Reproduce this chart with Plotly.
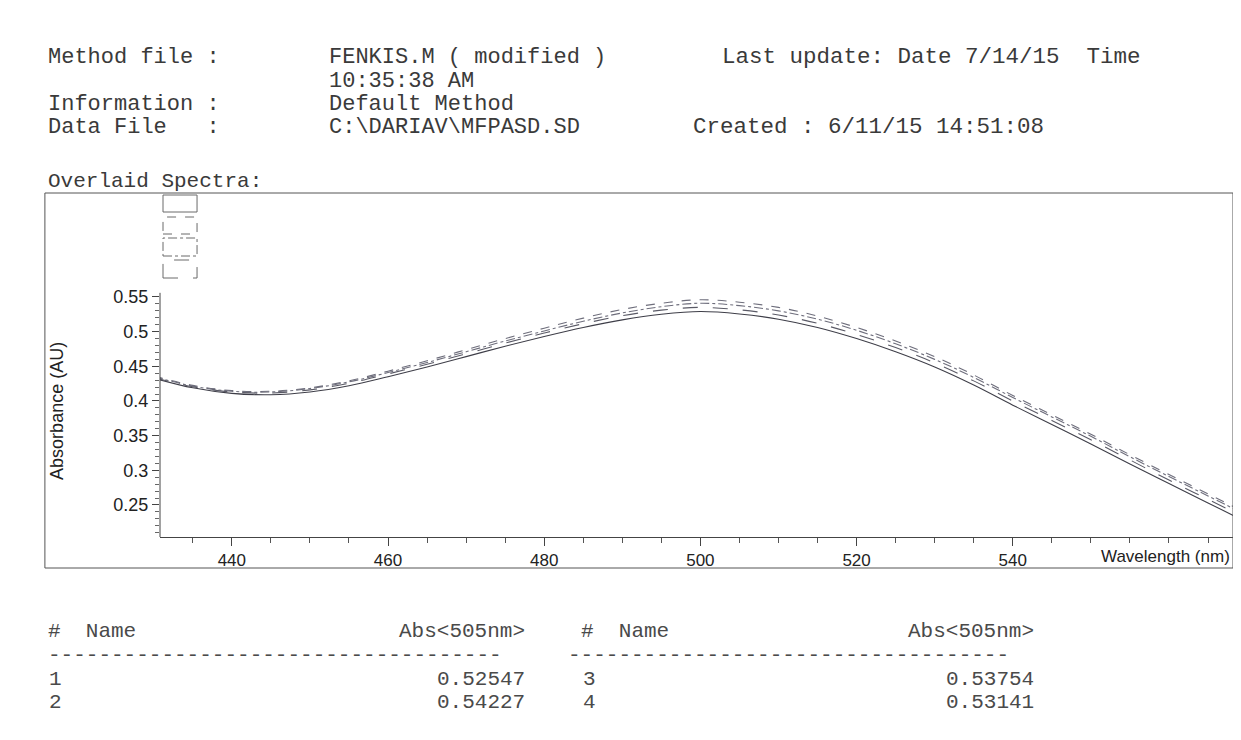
import plotly.graph_objects as go

# ---------------- data ----------------
wavelength = [430, 435, 440, 445, 450, 455, 460, 465, 470, 475, 480, 485, 490, 495,
              500, 505, 510, 515, 520, 525, 530, 535, 540, 545, 550, 555, 560, 565, 570]

spec1 = [0.433, 0.419, 0.411, 0.409, 0.413, 0.422, 0.435, 0.449, 0.464, 0.479, 0.493,
         0.506, 0.517, 0.525, 0.529, 0.5255, 0.518, 0.506, 0.490, 0.471, 0.449, 0.423,
         0.394, 0.366, 0.338, 0.309, 0.281, 0.253, 0.225]
spec2 = [0.436, 0.4225, 0.415, 0.414, 0.419, 0.429, 0.443, 0.458, 0.474, 0.490, 0.505,
         0.5195, 0.532, 0.541, 0.546, 0.5425, 0.535, 0.5225, 0.506, 0.4865, 0.464, 0.4375,
         0.408, 0.380, 0.352, 0.3225, 0.294, 0.266, 0.238]
spec3 = [0.435, 0.4215, 0.414, 0.413, 0.418, 0.4275, 0.441, 0.4555, 0.471, 0.4865, 0.501,
         0.515, 0.527, 0.536, 0.541, 0.5375, 0.530, 0.518, 0.502, 0.4825, 0.460, 0.434,
         0.405, 0.377, 0.349, 0.3195, 0.291, 0.263, 0.235]
spec4 = [0.434, 0.4205, 0.413, 0.4115, 0.416, 0.4255, 0.439, 0.453, 0.468, 0.4835, 0.498,
         0.5115, 0.523, 0.531, 0.535, 0.5315, 0.524, 0.512, 0.496, 0.477, 0.455, 0.429,
         0.400, 0.372, 0.344, 0.315, 0.286, 0.258, 0.230]

x_major = [440, 460, 480, 500, 520, 540]
x_minor = [435, 445, 450, 455, 465, 470, 475, 485, 490, 495, 505, 510, 515, 525, 530,
           535, 545, 550, 555, 560, 565]
y_major = [0.25, 0.3, 0.35, 0.4, 0.45, 0.5, 0.55]
y_major_labels = ["0.25", "0.3", "0.35", "0.4", "0.45", "0.5", "0.55"]
y_minor = [0.21, 0.22, 0.23, 0.24, 0.26, 0.27, 0.28, 0.29, 0.31, 0.32, 0.33, 0.34,
           0.36, 0.37, 0.38, 0.39, 0.41, 0.42, 0.43, 0.44, 0.46, 0.47, 0.48, 0.49,
           0.51, 0.52, 0.53, 0.54]

table_ids = ["1", "2", "3", "4"]
table_abs = ["0.52547", "0.54227", "0.53754", "0.53141"]

series = [
    (spec1, "solid", "#3e3e48"),
    (spec2, "dash", "#6e6e7c"),
    (spec3, "dashdot", "#6e6e7c"),
    (spec4, "longdash", "#5a5a66"),
]

# ---------------- layout geometry (reference pixel coords, page has 8px body margin) ----
OFF = 8
W, H = 1225, 712
L, R, T, B = 160, 1232, 193, 537


def px(xp):
    return (xp - L) / (R - L)


def py(yp):
    return (B - yp) / (B - T)


fig = go.Figure()
for i, (vals, dash, col) in enumerate(series):
    fig.add_trace(go.Scatter(
        x=wavelength, y=vals, mode="lines", name=table_ids[i],
        line=dict(color=col, width=1.1, dash=dash, shape="spline"),
        showlegend=False, hoverinfo="skip"))

mono = "Liberation Mono, Courier New, monospace"
sans = "Liberation Sans, Arial, sans-serif"
hdr_col = "#3a3a3a"
annos = []


def txt(x, y, s, anchor="left", size=21, color=hdr_col, family=mono):
    annos.append(dict(x=px(x), y=py(y), xref="paper", yref="paper", text=s,
                      showarrow=False, xanchor=anchor, yanchor="middle",
                      borderpad=0,
                      font=dict(family=family, size=size, color=color)))


txt(47, 57, "Method file :", size=22)
txt(328, 57, "FENKIS.M ( modified )", size=22)
txt(720, 57, "Last update: Date 7/14/15  Time", size=22.5)
txt(328, 81, "10:35:38 AM", size=22)
txt(47, 104, "Information :", size=22)
txt(328, 104, "Default Method", size=22)
txt(47, 127, "Data File   :", size=22)
txt(328, 127, "C:\\DARIAV\\MFPASD.SD", size=22)
txt(692, 127, "Created : 6/11/15 14:51:08", size=22.5)
txt(47, 182, "Overlaid Spectra:", size=21)

tcol = "#4a4a4a"
ts = 21
txt(47, 631, "#  Name", color=tcol, size=ts)
txt(526, 631, "Abs&lt;505nm&gt;", anchor="right", color=tcol, size=ts)
txt(580, 631, "#  Name", color=tcol, size=ts)
txt(1034, 631, "Abs&lt;505nm&gt;", anchor="right", color=tcol, size=ts)
txt(47, 655, "-" * 36, color=tcol, size=ts)
txt(567, 655, "-" * 35, color=tcol, size=ts)
txt(48, 679, table_ids[0], color=tcol, size=ts)
txt(526, 679, table_abs[0], anchor="right", color=tcol, size=ts)
txt(48, 702, table_ids[1], color=tcol, size=ts)
txt(526, 702, table_abs[1], anchor="right", color=tcol, size=ts)
txt(582, 679, table_ids[2], color=tcol, size=ts)
txt(1034, 679, table_abs[2], anchor="right", color=tcol, size=ts)
txt(582, 702, table_ids[3], color=tcol, size=ts)
txt(1034, 702, table_abs[3], anchor="right", color=tcol, size=ts)

# axis titles
txt(1230, 556, "Wavelength (nm)", anchor="right", size=17, color="#222222", family=sans)
annos.append(dict(x=px(57), y=py(411), xref="paper", yref="paper",
                  text="Absorbance (AU)", showarrow=False, textangle=-90,
                  xanchor="center", yanchor="middle",
                  font=dict(family=sans, size=18, color="#222222")))

shapes = []
# outer frame
shapes.append(dict(type="rect", xref="paper", yref="paper",
                   x0=px(45), x1=1, y0=py(568), y1=py(193),
                   line=dict(color="#555555", width=1)))
# y axis line (only up to the top tick)
shapes.append(dict(type="line", xref="paper", yref="y", x0=0, x1=0,
                   y0=0.2038, y1=0.556, line=dict(color="#444444", width=1)))
# legend sample boxes
box_rows = [(195, 212), (217, 234), (238, 256), (260, 278)]
for (y0, y1), (_, dash, col) in zip(box_rows, series):
    shapes.append(dict(type="rect", xref="paper", yref="paper",
                       x0=px(163), x1=px(197), y0=py(y1), y1=py(y0),
                       line=dict(color="#6a6a6a", width=1, dash=dash)))

fig.update_layout(
    width=W, height=H,
    margin=dict(l=L - OFF, r=W - (R - OFF) - 1, t=T - OFF, b=H - (B - OFF)),
    paper_bgcolor="white", plot_bgcolor="white",
    annotations=annos, shapes=shapes,
    xaxis=dict(range=[430.8, 568.2], showgrid=False, zeroline=False,
               showline=True, linecolor="#444444", linewidth=1,
               tickmode="array", tickvals=x_major, ticks="outside", ticklen=8,
               tickcolor="#444444", tickwidth=1,
               tickfont=dict(family=sans, size=17, color="#222222"),
               minor=dict(tickmode="array", tickvals=x_minor, ticks="outside",
                          ticklen=5, tickcolor="#555555", showgrid=False)),
    yaxis=dict(range=[0.2038, 0.70], showgrid=False, zeroline=False,
               showline=False,
               tickmode="array", tickvals=y_major, ticktext=y_major_labels,
               ticks="outside", ticklen=7, tickcolor="#444444", tickwidth=1,
               tickfont=dict(family=sans, size=18, color="#222222"),
               minor=dict(tickmode="array", tickvals=y_minor, ticks="outside",
                          ticklen=4, tickcolor="#666666", showgrid=False)),
)

fig.write_html("out.html")
